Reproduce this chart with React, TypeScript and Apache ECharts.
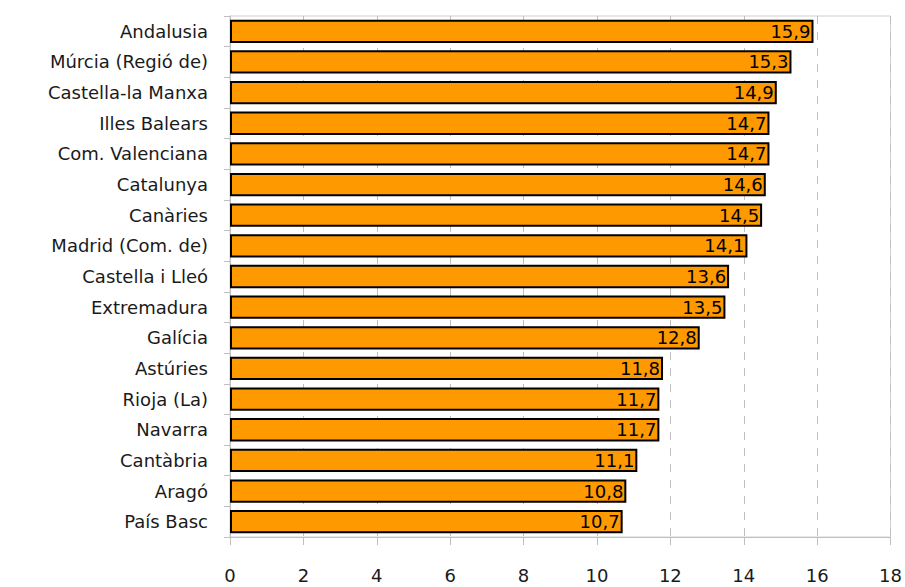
import React, { useEffect, useRef } from "react";
import * as echarts from "echarts";

const categories = [
  "Andalusia",
  "Múrcia (Regió de)",
  "Castella-la Manxa",
  "Illes Balears",
  "Com. Valenciana",
  "Catalunya",
  "Canàries",
  "Madrid (Com. de)",
  "Castella i Lleó",
  "Extremadura",
  "Galícia",
  "Astúries",
  "Rioja (La)",
  "Navarra",
  "Cantàbria",
  "Aragó",
  "País Basc",
];
const values = [15.9, 15.3, 14.9, 14.7, 14.7, 14.6, 14.5, 14.1, 13.6, 13.5, 12.8, 11.8, 11.7, 11.7, 11.1, 10.8, 10.7];

export default function App() {
  const ref = useRef<HTMLDivElement>(null);
  useEffect(() => {
    document.body.style.margin = "0";
    if (!ref.current) return;
    const chart = echarts.init(ref.current, undefined, { renderer: "svg" });
    const font = "'DejaVu Sans', sans-serif";
    chart.setOption({
      animation: false,
      grid: {
        left: 230,
        right: 13,
        top: 16,
        bottom: 50,
        show: true,
        borderColor: "#d0d0d0",
        borderWidth: 1,
      },
      xAxis: {
        type: "value",
        min: 0,
        max: 18,
        interval: 2,
        axisLine: { show: true, lineStyle: { color: "#bfbfbf" } },
        axisTick: { show: true, length: 8, lineStyle: { color: "#bfbfbf" } },
        axisLabel: { color: "#1a1a1a", fontSize: 18, fontFamily: font, margin: 29 },
        splitLine: { show: true, lineStyle: { color: "#bfbfbf", type: [8, 8] } },
      },
      yAxis: {
        type: "category",
        inverse: true,
        data: categories,
        axisLine: { show: true, lineStyle: { color: "#bfbfbf" } },
        axisTick: { show: true, length: 6, lineStyle: { color: "#bfbfbf" } },
        axisLabel: { color: "#1a1a1a", fontSize: 18, fontFamily: font, margin: 22 },
      },
      series: [
        {
          type: "bar",
          data: values,
          barCategoryGap: "24%",
          itemStyle: { color: "#FF9900", borderColor: "#000", borderWidth: 2 },
          label: {
            show: true,
            position: "insideRight",
            distance: 3,
            color: "#000",
            fontSize: 18,
            fontFamily: font,
            formatter: (p: any) => p.value.toFixed(1).replace(".", ","),
          },
        },
      ],
    });
    return () => chart.dispose();
  }, []);
  return <div ref={ref} style={{ width: 905, height: 587 }} />;
}
